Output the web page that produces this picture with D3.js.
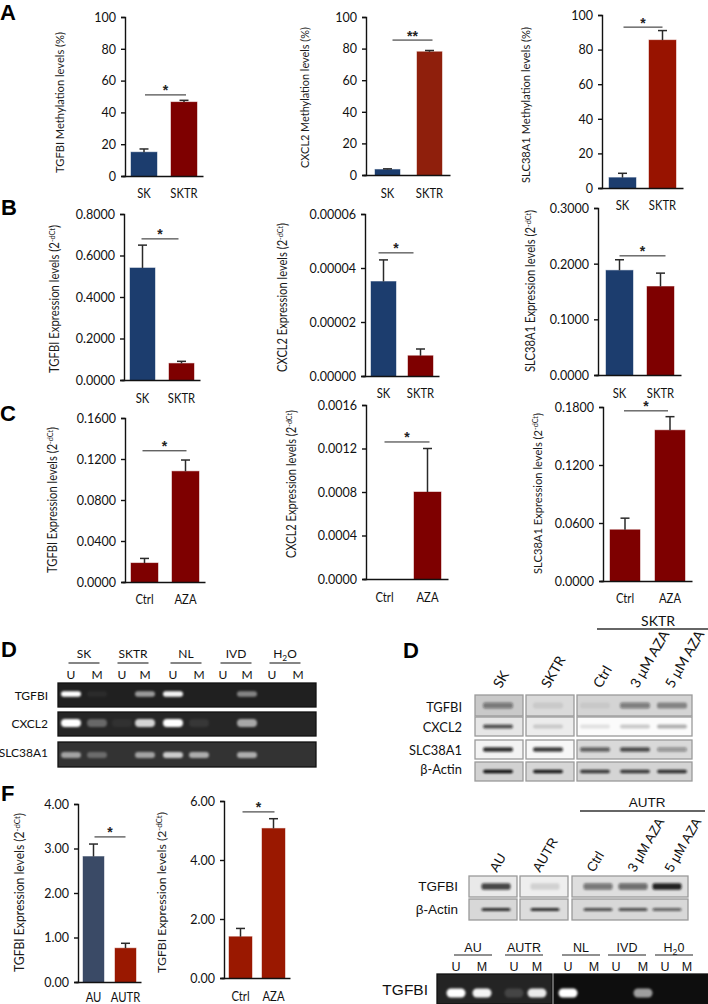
<!DOCTYPE html>
<html><head><meta charset="utf-8">
<script src="https://cdn.jsdelivr.net/npm/d3@7/dist/d3.min.js"></script>
<style>html,body{margin:0;padding:0;background:#fff}svg{display:block}</style>
</head><body><div id="chart"></div>
<script>
// ---------- data ----------
const skCategories=["SK","SKTR"], aCategories=["Ctrl","AZA"], auCategories=["AU","AUTR"];
const methTicks=[0,20,40,60,80,100];
const b1Ticks=[0,.2,.4,.6,.8], b2Ticks=[0,.00002,.00004,.00006], b3Ticks=[0,.1,.2,.3];
const c1Ticks=[0,.04,.08,.12,.16], c2Ticks=[0,.0004,.0008,.0012,.0016], c3Ticks=[0,.06,.12,.18];
const f1Ticks=[0,1,2,3,4], f2Ticks=[0,2,4,6];
const a1Values=[15,46.5], a1Err=[17,47.6], a1Sig=51;
const a2Values=[3.5,78], a2Err=[3.9,78.8], a2Sig=85.4;
const a3Values=[6,85.5], a3Err=[8.5,91], a3Sig=93;
const b1Values=[.54,.08], b1Err=[.65,.09], b1Sig=.68;
const b2Values=[.000035,.0000075], b2Err=[.000043,.00001], b2Sig=.0000456;
const b3Values=[.188,.159], b3Err=[.207,.183], b3Sig=.214;
const c1Values=[.0185,.108], c1Err=[.023,.119], c1Sig=.128;
const c2Values=[0,.0008], c2Err=[0,.0012], c2Sig=.00126;
const c3Values=[.053,.156], c3Err=[.065,.17], c3Sig=.176;
const f1Values=[2.82,.76], f1Err=[3.1,.87], f1Sig=3.26;
const f2Values=[1.4,5.07], f2Err=[1.68,5.4], f2Sig=5.63;

const gelLanes=["U","M","U","M","U","M","U","M","U","M"];
const gelGroups=["SK","SKTR","NL","IVD","H2O"];
const gelRowNames=["TGFBI","CXCL2","SLC38A1"];
const gelTGFBI=[1,.05,0,.55,.95,0,0,.45,0,0];
const gelCXCL2=[1,.3,.05,.8,1,.08,0,.6,0,0];
const gelSLC=[.55,.28,0,.55,.75,.6,0,.6,0,0];
const wbLanes=["SK","SKTR","Ctrl","3 μM AZA","5 μM AZA"];
const wbRowNames=["TGFBI","CXCL2","SLC38A1","β-Actin"];
const wbTGFBI=[.45,.08,.06,.45,.38];
const wbCXCL2=[.7,.15,.1,.2,.3];
const wbSLC=[.85,.8,.6,.7,.35];
const wbActin=[1,.95,.8,.8,.85];
const wb2Lanes=["AU","AUTR","Ctrl","3 μM AZA","5 μM AZA"];
const wb2RowNames=["TGFBI","β-Actin"];
const wb2TGFBI=[.75,.12,.5,.55,.9];
const wb2Actin=[.85,.85,.7,.7,.6];
const gel2Lanes=["U","M","U","M","U","M","U","M","U","M"];
const gel2Groups=["AU","AUTR","NL","IVD","H20"];
const gel2TGFBI=[1,.95,.15,.9,1,0,0,.6,0,0];

// ---------- layout ----------
const NAVY="#1c3d6e",MAROON="#7e0000",RUST="#8f1f0c",RED="#981300",SLATE="#3a4a66",FRED="#9a1800";
const panels=[
 {cats:skCategories,v:a1Values,e:a1Err,s:a1Sig,t:methTicks,max:100,d:0,title:"TGFBI Methylation levels (%)",ax:125,top:17,bot:176,right:203,l:131,r:197,w:26,ly:193,tx:60,t0:32,t1:173,c:[NAVY,MAROON],sd:[1,2],star:"*"},
 {cats:skCategories,v:a2Values,e:a2Err,s:a2Sig,t:methTicks,max:100,d:0,title:"CXCL2 Methylation levels (%)",ax:366,top:17,bot:175,right:450,l:375,r:442,w:25,ly:193,tx:305,t0:27,t1:168,c:[NAVY,RUST],sd:[5,3],star:"**"},
 {cats:skCategories,v:a3Values,e:a3Err,s:a3Sig,t:methTicks,max:100,d:0,title:"SLC38A1 Methylation levels (%)",ax:602,top:15,bot:188,right:683,l:609,r:676,w:27,ly:205,tx:526,t0:27,t1:183,c:[NAVY,RED],sd:[1,0],star:"*"},
 {cats:skCategories,v:b1Values,e:b1Err,s:b1Sig,t:b1Ticks,max:.8,d:4,title:"TGFBI Expression levels",sup:1,ax:124,top:214,bot:380,right:200,l:130,r:194,w:25,ly:398,tx:55,t0:225,t1:373,c:[NAVY,MAROON],sd:[-1,-3],star:"*"},
 {cats:skCategories,v:b2Values,e:b2Err,s:b2Sig,t:b2Ticks,max:.00006,d:5,title:"CXCL2 Expression levels",sup:1,ax:365,top:214,bot:376,right:439,l:371,r:433,w:25,ly:393,tx:283,t0:223,t1:372,c:[NAVY,MAROON],sd:[-5,-7],star:"*"},
 {cats:skCategories,v:b3Values,e:b3Err,s:b3Sig,t:b3Ticks,max:.3,d:4,title:"SLC38A1 Expression levels",sup:1,ax:598,top:208,bot:375,right:681,l:606,r:674,w:27,ly:393,tx:531,t0:210,t1:372,c:[NAVY,MAROON],sd:[0,5],star:"*"},
 {cats:aCategories,v:c1Values,e:c1Err,s:c1Sig,t:c1Ticks,max:.16,d:4,title:"TGFBI Expression levels",sup:1,ax:125,top:418,bot:582,right:205,l:131,r:199,w:27,ly:599,tx:53,t0:427,t1:573,c:[MAROON,MAROON],sd:[-2,1],star:"*"},
 {cats:aCategories,v:c2Values,e:c2Err,s:c2Sig,t:c2Ticks,max:.0016,d:4,title:"CXCL2 Expression levels",sup:1,ax:366,top:405,bot:579,right:448,l:371,r:441,w:27,ly:597,tx:292,t0:410,t1:558,c:[MAROON,MAROON],sd:[0,2],star:"*"},
 {cats:aCategories,v:c3Values,e:c3Err,s:c3Sig,t:c3Ticks,max:.18,d:4,title:"SLC38A1 Expression levels",sup:1,ax:603,top:407,bot:581,right:692,l:610,r:685,w:30,ly:598,tx:538,t0:413,t1:574,c:[MAROON,MAROON],sd:[-1,-2],star:"*"},
 {cats:auCategories,v:f1Values,e:f1Err,s:f1Sig,t:f1Ticks,max:4,d:2,title:"TGFBI Expression levels",sup:1,ax:78,top:804,bot:982,right:141,l:83,r:136,w:21,ly:997,tx:20,t0:813,t1:972,c:[SLATE,FRED],sd:[1,0],star:"*"},
 {cats:aCategories,v:f2Values,e:f2Err,s:f2Sig,t:f2Ticks,max:6,d:2,title:"TGFBI Expression levels",sup:1,ax:224,top:801,bot:978,right:290,l:229,r:285,w:23,ly:996,tx:162,t0:812,t1:973,c:[FRED,FRED],sd:[2,1],star:"*"},
];
const FONT="Lato, 'Open Sans', sans-serif", ARIAL="'Liberation Sans', Arial, sans-serif";
// Reference labels use a narrower face than Lato: keep the height, squeeze the width.
function condense(sel,k){sel.each(function(){const n=d3.select(this);n.attr("lengthAdjust","spacingAndGlyphs").attr("textLength",this.getComputedTextLength()*k);});}

const svg=d3.select("#chart").append("svg").attr("width",708).attr("height",1004).attr("viewBox","0 0 708 1004");
const defs=svg.append("defs");
[["blurGel",1.1],["blurWb",1.1]].forEach(([id,s])=>defs.append("filter").attr("id",id).attr("x","-30%").attr("y","-80%").attr("width","160%").attr("height","260%").append("feGaussianBlur").attr("stdDeviation",s));

// ---------- bar panels ----------
panels.forEach(p=>{
  const g=svg.append("g");
  const y=d3.scaleLinear().domain([0,p.max]).range([p.bot,p.top]);
  const step=p.r-p.l-p.w;
  const x=d3.scaleBand().domain(p.cats).range([p.l,p.r]).paddingInner(1-p.w/step).paddingOuter(0);
  const cx=c=>x(c)+x.bandwidth()/2;
  const rows=p.cats.map((c,i)=>({c,v:p.v[i],e:p.e[i],col:p.c[i]}));
  g.selectAll("rect.bar").data(rows).join("rect").attr("class","bar")
    .attr("x",d=>x(d.c)).attr("width",x.bandwidth()).attr("y",d=>y(d.v)).attr("height",d=>y(0)-y(d.v))
    .attr("fill",d=>d.col).attr("stroke",d=>d.col).attr("stroke-opacity",.45);
  const er=rows.filter(d=>d.e>d.v);
  g.selectAll("line.err").data(er).join("line").attr("class","err")
    .attr("x1",d=>cx(d.c)).attr("x2",d=>cx(d.c)).attr("y1",d=>y(d.v)).attr("y2",d=>y(d.e)).attr("stroke","#2a2a2a").attr("stroke-width",1.5);
  g.selectAll("line.cap").data(er).join("line").attr("class","cap")
    .attr("x1",d=>cx(d.c)-4.5).attr("x2",d=>cx(d.c)+4.5).attr("y1",d=>y(d.e)).attr("y2",d=>y(d.e)).attr("stroke","#2a2a2a").attr("stroke-width",1.5);
  // axes
  const ay=g.append("g").attr("transform",`translate(${p.ax},0)`)
    .call(d3.axisLeft(y).tickValues(p.t).tickFormat(d=>d3.format(`.${p.d}f`)(d)).tickSizeOuter(0).tickSize(4).tickPadding(5));
  ay.selectAll("path,line").attr("stroke","#111").attr("stroke-width",1.4);
  ay.selectAll("text").attr("font-family",FONT).attr("font-size",13.6).attr("fill","#111").call(condense,.92);
  const xa=d3.scaleLinear().domain([0,1]).range([p.ax-3,p.right]);
  g.append("g").attr("transform",`translate(0,${p.bot})`)
    .call(d3.axisBottom(xa).tickValues([]).tickSizeOuter(0)).select("path").attr("stroke","#111").attr("stroke-width",1.4);
  // category labels
  g.selectAll("text.cat").data(p.cats).join("text").attr("class","cat").attr("x",cx).attr("y",p.ly+4.5)
    .attr("text-anchor","middle").attr("font-family",FONT).attr("font-size",12.8).attr("fill","#111").text(d=>d).call(condense,.88);
  // significance
  const sx0=cx(p.cats[0])+p.sd[0], sx1=cx(p.cats[1])+p.sd[1], sy=y(p.s);
  g.append("line").attr("x1",sx0).attr("x2",sx1).attr("y1",sy).attr("y2",sy).attr("stroke","#222").attr("stroke-width",1);
  g.append("text").attr("x",(sx0+sx1)/2).attr("y",sy+.5).attr("text-anchor","middle").attr("font-family",ARIAL).attr("font-weight","bold").attr("font-size",14).attr("fill","#222").text(p.star);
  // y title, squeezed to the measured span
  const t=g.append("text").attr("text-anchor","middle").attr("font-family",FONT).attr("font-size",12.4).attr("fill","#1a1a1a");
  if(p.sup){
    t.append("tspan").text(p.title+" (2");
    t.append("tspan").attr("dy",-4).attr("font-size",8).text("-dCt");
    t.append("tspan").attr("dy",4).text(")");
  } else t.text(p.title);
  const sx=(p.t1-p.t0)/t.node().getComputedTextLength();
  t.attr("transform",`translate(${p.tx+4},${(p.t0+p.t1)/2}) rotate(-90) scale(${sx},1)`);
});

// ---------- panel letters ----------
const letters=[["A",0,20],["B",1,215],["C",0,421],["D",1,657],["D",403,658],["F",1,801]];
svg.selectAll("text.letter").data(letters).join("text").attr("class","letter").attr("x",d=>d[1]).attr("y",d=>d[2])
  .attr("font-family",ARIAL).attr("font-weight","bold").attr("font-size",22).attr("fill","#000").text(d=>d[0]);

// ---------- DNA gels ----------
function subscriptText(sel,s){
  const m=s.match(/^H2(.)$/);
  if(m){sel.append("tspan").text("H");sel.append("tspan").attr("dy",2.5).attr("font-size","70%").text("2");sel.append("tspan").attr("dy",-2.5).text(m[1]);}
  else sel.text(s);
}
function drawGel(o){
  const g=svg.append("g");
  const lx=d3.scaleOrdinal(d3.range(o.lanes.length),o.laneX);
  o.groups.forEach((name,i)=>{
    const cx=o.groupX[i];
    const t=g.append("text").attr("x",cx).attr("y",o.groupY).attr("text-anchor","middle").attr("font-family",o.font).attr("font-size",o.fs).attr("fill","#111");
    subscriptText(t,name);
    g.append("line").attr("x1",cx-o.groupW/2).attr("x2",cx+o.groupW/2).attr("y1",o.ruleY).attr("y2",o.ruleY).attr("stroke","#222").attr("stroke-width",1.1);
  });
  g.selectAll("text.lane").data(o.lanes).join("text").attr("class","lane").attr("x",(d,i)=>lx(i)).attr("y",o.laneY).attr("text-anchor","middle")
    .attr("font-family",o.font).attr("font-size",o.fs).attr("fill","#111").text(d=>d);
  o.rows.forEach(r=>{
    r.boxes.forEach(b=>g.append("rect").attr("x",b[0]).attr("y",r.y0).attr("width",b[1]-b[0]).attr("height",r.y1-r.y0).attr("fill",b[2]).attr("stroke","#111").attr("stroke-width",1.3));
    const b=g.append("g").attr("filter","url(#blurGel)");
    b.selectAll("rect").data(r.vals).join("rect").attr("x",(d,i)=>lx(i)-o.bw/2).attr("width",o.bw).attr("y",r.by-r.bh/2).attr("height",r.bh).attr("rx",r.bh/2)
      .attr("fill","#fff").attr("opacity",d=>d);
    if(r.name) g.append("text").attr("x",o.nameX).attr("y",r.ny).attr("text-anchor","end").attr("font-family",o.nameFont||o.font).attr("font-size",o.nameFs||o.fs).attr("fill","#111").text(r.name);
  });
}
drawGel({lanes:gelLanes,groups:gelGroups,laneX:[71,97,122,145,173,199,223,247,272,298],groupX:[84,133,186,236,285],groupW:31,groupY:658,ruleY:663,laneY:679,font:FONT,fs:12,bw:20,nameX:48,
  rows:[{name:gelRowNames[0],vals:gelTGFBI,y0:683,y1:707,by:694,bh:5.5,ny:700,boxes:[[58,316,"#202020"]]},
        {name:gelRowNames[1],vals:gelCXCL2,y0:712,y1:736,by:723,bh:8,ny:728,boxes:[[58,316,"#262626"]]},
        {name:gelRowNames[2],vals:gelSLC,y0:742,y1:767,by:755,bh:6,ny:757,boxes:[[58,316,"#333"]]}]});
drawGel({lanes:gel2Lanes,groups:gel2Groups,laneX:[456,482,514,537,568,594,616,643,665,687],groupX:[473,524,581,627,674],groupW:38,groupY:952,ruleY:955,laneY:971,font:ARIAL,fs:12.5,bw:19,nameX:428,nameFs:15.5,nameFont:ARIAL,
  rows:[{name:"TGFBI",vals:gel2TGFBI,y0:974,y1:1004,by:993,bh:9,ny:995,boxes:[[437,552,"#242424"],[554,708,"#0e0e0e"]]}]});

// ---------- western blots ----------
function drawBlot(o){
  const g=svg.append("g");
  const lx=d3.scaleOrdinal(o.lanes,o.laneX);
  o.lanes.forEach((name,i)=>{
    g.append("text").attr("transform",`translate(${o.labelX[i]},${o.labelY}) rotate(${o.angle})`).attr("font-family",o.font).attr("font-size",o.fs).attr("fill","#111").text(name);
  });
  g.append("text").attr("x",o.headX).attr("y",o.headY).attr("text-anchor","middle").attr("font-family",o.font).attr("font-size",o.fs).attr("fill","#111").text(o.head);
  g.append("line").attr("x1",o.headL).attr("x2",o.headR).attr("y1",o.headRule).attr("y2",o.headRule).attr("stroke","#333").attr("stroke-width",1.3);
  o.rows.forEach(r=>{
    o.cols.forEach((c,i)=>g.append("rect").attr("x",c[0]).attr("y",r.y0).attr("width",c[1]-c[0]).attr("height",r.y1-r.y0).attr("fill",r.bg[i]).attr("stroke","#9a9a9a").attr("stroke-width",1.3));
    const b=g.append("g").attr("filter","url(#blurWb)");
    b.selectAll("rect").data(r.vals).join("rect").attr("x",(d,i)=>lx(o.lanes[i])-o.bw/2).attr("width",o.bw).attr("y",(r.y0+r.y1)/2-r.bh/2).attr("height",r.bh).attr("rx",2)
      .attr("fill","#111").attr("opacity",d=>d);
    g.append("text").attr("x",o.nameX).attr("y",r.ny).attr("text-anchor","end").attr("font-family",o.font).attr("font-size",o.nfs).attr("fill","#111").text(r.name).call(o.font===FONT?s=>condense(s,.92):s=>s);
  });
}
drawBlot({lanes:wbLanes,laneX:[498,548,595,635,672],labelX:[501,549,601,638,673],labelY:689,angle:-60,font:FONT,fs:14,nfs:14,bw:30,head:"SKTR",headX:658,headY:626,headL:597,headR:708,headRule:629,nameX:462,cols:[[475,523],[526,574],[577,692]],
  rows:[{name:wbRowNames[0],vals:wbTGFBI,y0:695,y1:716,bh:6,ny:712,bg:["#c9c9c9","#dadada","#d4d4d4"]},
        {name:wbRowNames[1],vals:wbCXCL2,y0:717,y1:736,bh:4,ny:732,bg:["#e6e6e6","#ececec","#fbfbfb"]},
        {name:wbRowNames[2],vals:wbSLC,y0:740,y1:759,bh:4.5,ny:755,bg:["#f3f3f3","#f7f7f7","#d9d9d9"]},
        {name:wbRowNames[3],vals:wbActin,y0:762,y1:781,bh:3.5,ny:774,bg:["#d2d2d2","#d6d6d6","#d4d4d4"]}]});
drawBlot({lanes:wb2Lanes,laneX:[496,545,598,633,667],labelX:[497,540,594,635,672],labelY:873,angle:-60,font:ARIAL,fs:13.5,nfs:13.5,bw:29,head:"AUTR",headX:647,headY:807,headL:580,headR:705,headRule:811,nameX:458,cols:[[469,517],[520,568],[572,688]],
  rows:[{name:wb2RowNames[0],vals:wb2TGFBI,y0:876,y1:897,bh:6.5,ny:891,bg:["#e9e9e9","#eeeeee","#dedede"]},
        {name:wb2RowNames[1],vals:wb2Actin,y0:899,y1:920,bh:3,ny:914,bg:["#d8d8d8","#dcdcdc","#d8d8d8"]}]});
</script></body></html>
